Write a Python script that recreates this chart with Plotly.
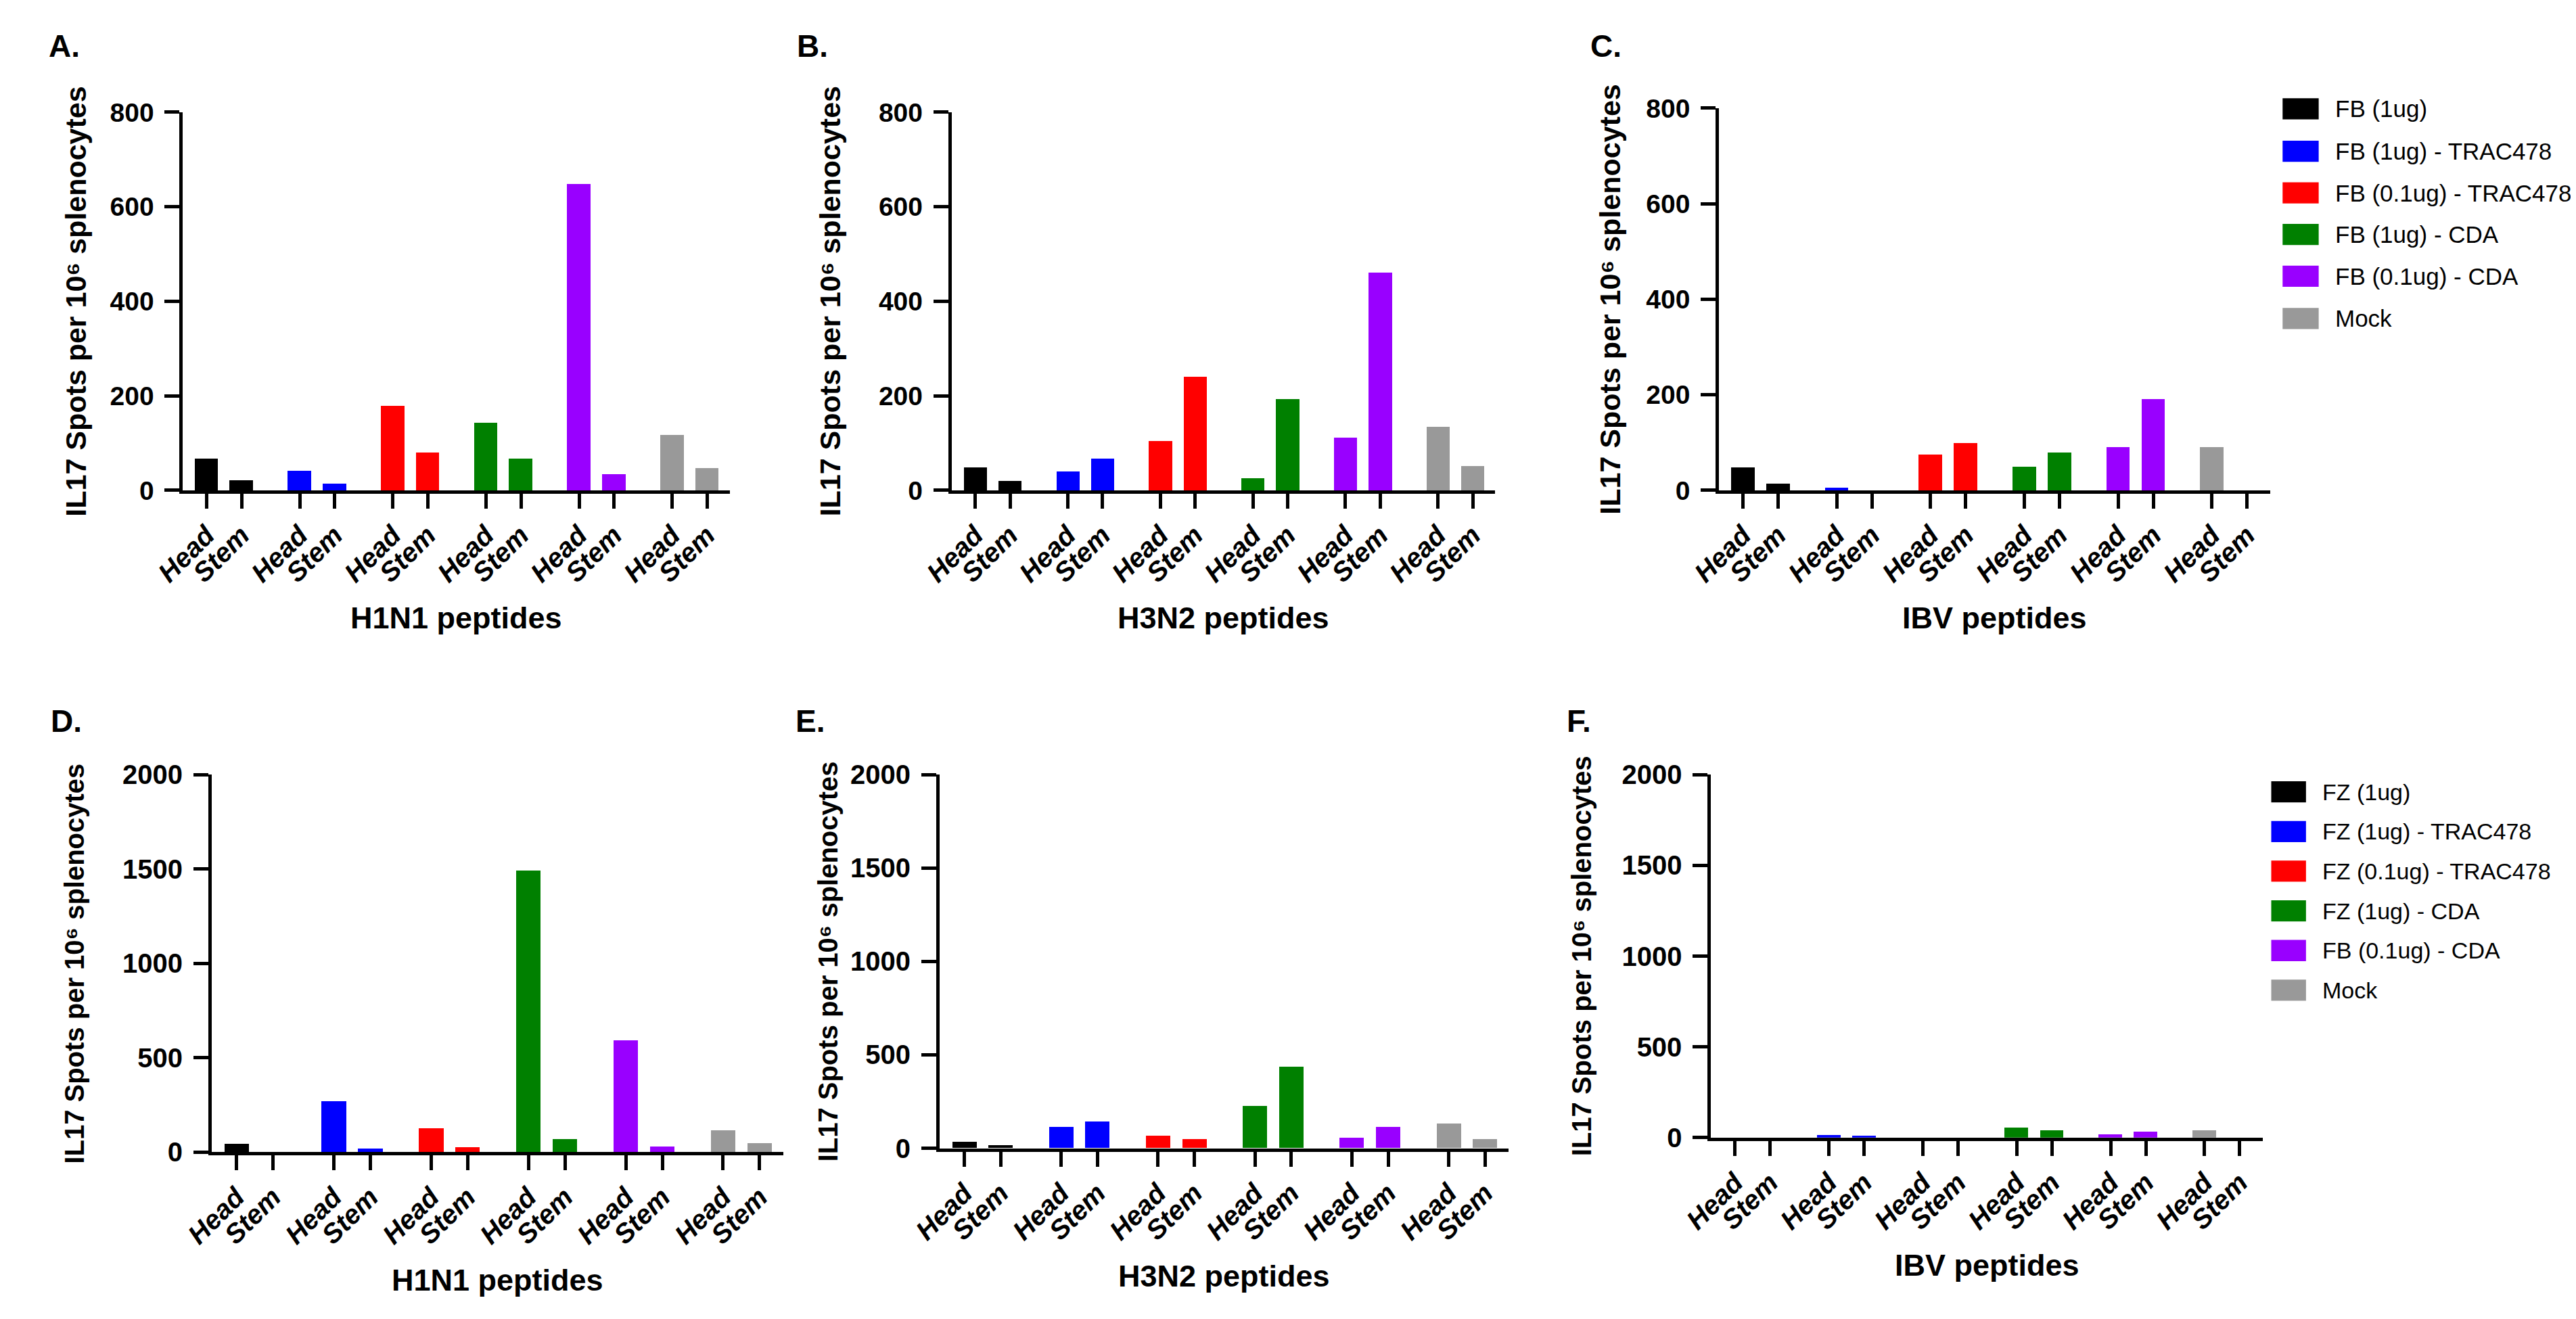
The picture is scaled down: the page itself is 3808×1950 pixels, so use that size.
import plotly.graph_objects as go

W, H = 3808, 1950
FONT = "Liberation Sans, Arial, DejaVu Sans, sans-serif"

# ---- data ----
groups_top = ["FB (1ug)", "FB (1ug) - TRAC478", "FB (0.1ug) - TRAC478",
              "FB (1ug) - CDA", "FB (0.1ug) - CDA", "Mock"]
groups_bottom = ["FZ (1ug)", "FZ (1ug) - TRAC478", "FZ (0.1ug) - TRAC478",
                 "FZ (1ug) - CDA", "FB (0.1ug) - CDA", "Mock"]
colors = ["#000000", "#0000FF", "#FF0000", "#008000", "#9900FF", "#999999"]
peptides = ["Head", "Stem"]

h1n1_top_head = [67, 42, 179, 143, 648, 117]
h1n1_top_stem = [21, 14, 80, 67, 35, 48]
h3n2_top_head = [49, 40, 105, 26, 112, 134]
h3n2_top_stem = [20, 68, 240, 194, 461, 52]
ibv_top_head = [48, 6, 75, 49, 91, 91]
ibv_top_stem = [14, 0, 99, 79, 191, 0]

h1n1_bot_head = [42, 269, 127, 1490, 592, 115]
h1n1_bot_stem = [0, 17, 25, 70, 30, 47]
h3n2_bot_head = [32, 114, 66, 227, 56, 133]
h3n2_bot_stem = [17, 141, 49, 435, 114, 49]
ibv_bot_head = [0, 13, 0, 53, 18, 38]
ibv_bot_stem = [0, 11, 0, 38, 31, 0]

top_ticks = [0, 200, 400, 600, 800]
bottom_ticks = [0, 500, 1000, 1500, 2000]

y_title = "IL17 Spots per 10\u2076 splenocytes"


def px(x):
    return x / W


def py(y):
    return 1 - y / H


# panel: label, x title, head, stem, y ticks, box in pixels (left, right, top, bottom), label pos
panels = [
    ("A.", "H1N1 peptides", h1n1_top_head, h1n1_top_stem, top_ticks, (220, 1038, 139, 711), (17, 39)),
    ("B.", "H3N2 peptides", h3n2_top_head, h3n2_top_stem, top_ticks, (1370, 2183, 139, 711), (1136, 39)),
    ("C.", "IBV peptides", ibv_top_head, ibv_top_stem, top_ticks, (2518, 3342, 133, 711), (2323, 39)),
    ("D.", "H1N1 peptides", h1n1_bot_head, h1n1_bot_stem, bottom_ticks, (263, 1118, 1141, 1712), (20, 1060)),
    ("E.", "H3N2 peptides", h3n2_bot_head, h3n2_bot_stem, bottom_ticks, (1352, 2203, 1141, 1706), (1134, 1060)),
    ("F.", "IBV peptides", ibv_bot_head, ibv_bot_stem, bottom_ticks, (2506, 3331, 1141, 1690), (2288, 1060)),
]
ytitle_x = [60, 1188, 2355, 58, 1185, 2312]

fig = go.Figure()
annotations = []
shapes = []

group_step = 8 / 3
tickvals, ticktext = [], []
for g in range(len(colors)):
    for k, p in enumerate(peptides):
        tickvals.append(g * group_step + k)
        ticktext.append(p)

for i, (label, xtitle, head, stem, yticks, box, lab_pos) in enumerate(panels):
    n = "" if i == 0 else str(i + 1)
    left, right, top, bottom = box
    for g, col in enumerate(colors):
        fig.add_trace(go.Bar(
            x=[g * group_step, g * group_step + 1], y=[head[g], stem[g]],
            width=0.67, marker=dict(color=col, line=dict(width=0)),
            xaxis="x" + n, yaxis="y" + n, showlegend=False))

    fig.layout["xaxis" + n] = dict(
        domain=[px(left), px(right)], anchor="y" + n, range=[-0.68, 14.98],
        tickmode="array", tickvals=tickvals, ticktext=ticktext, tickangle=-45,
        ticks="outside", ticklen=22, tickwidth=5, tickcolor="black",
        showline=True, linewidth=5, linecolor="black", showgrid=False, zeroline=False,
        tickfont=dict(family=FONT, size=40, color="black", weight="bold", style="italic"))
    fig.layout["yaxis" + n] = dict(
        domain=[py(bottom), py(top)], anchor="x" + n, range=[0, yticks[-1]],
        tickmode="array", tickvals=yticks,
        ticks="outside", ticklen=22, tickwidth=5, tickcolor="black", ticklabelstandoff=8,
        showline=True, linewidth=5, linecolor="black", showgrid=False, zeroline=False,
        tickfont=dict(family=FONT, size=39 if i < 3 else 40, color="black", weight="bold"))

    annotations.append(dict(
        text=y_title, textangle=-90,
        x=px(ytitle_x[i]), y=py((top + bottom) / 2), xref="paper", yref="paper",
        xanchor="center", yanchor="middle", showarrow=False,
        font=dict(family=FONT, size=43 if i < 3 else 40, color="black", weight="bold")))
    annotations.append(dict(
        text=xtitle, x=px((left + right) / 2), y=py(bottom + 193), xref="paper", yref="paper",
        xanchor="center", yanchor="middle", showarrow=False,
        font=dict(family=FONT, size=45, color="black", weight="bold")))
    annotations.append(dict(
        text=label, x=px(lab_pos[0]), y=py(lab_pos[1]), xref="paper", yref="paper",
        xanchor="left", yanchor="middle", showarrow=False,
        font=dict(family=FONT, size=46, color="black", weight="bold")))

# hand-made legends (big swatches)
legends = [
    (groups_top, 3361, 3415, 3438, [134, 198, 261, 324, 387, 451], 35),
    (groups_bottom, 3344, 3396, 3418, [1167, 1227, 1287, 1347, 1407, 1467], 34),
]
for names, sx0, sx1, tx, ys, fs in legends:
    for name, col, yc in zip(names, colors, ys):
        shapes.append(dict(type="rect", xref="paper", yref="paper",
                           x0=px(sx0), x1=px(sx1), y0=py(yc + 16), y1=py(yc - 16),
                           fillcolor=col, line=dict(width=0)))
        annotations.append(dict(
            text=name, x=px(tx), y=py(yc), xref="paper", yref="paper",
            xanchor="left", yanchor="middle", showarrow=False,
            font=dict(family=FONT, size=fs, color="black")))

fig.update_layout(
    width=W, height=H, margin=dict(l=0, r=0, t=0, b=0),
    paper_bgcolor="white", plot_bgcolor="white",
    bargap=0, annotations=annotations, shapes=shapes,
    font=dict(family=FONT, color="black"),
)

fig.write_html("out.html")
